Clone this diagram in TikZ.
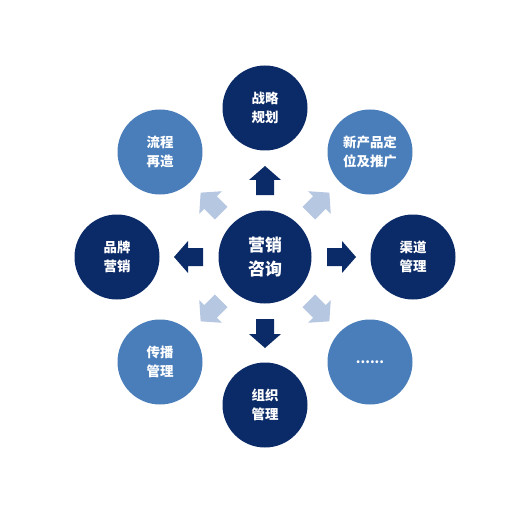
\documentclass[tikz,border=0pt]{standalone}
\usepackage{fontspec}
\newfontfamily\cjk{Noto Sans CJK SC}
\usetikzlibrary{positioning}
\definecolor{navy}{HTML}{0B2A68}
\definecolor{midblue}{HTML}{4A7EBB}
\definecolor{paleblue}{HTML}{B6C7E2}

\begin{document}
\begin{tikzpicture}[x=1bp,y=-1bp,
    hub/.style={circle, fill=navy, minimum size=93bp, inner sep=0pt, text=white, align=center,
        font=\cjk\bfseries\fontsize{17}{25}\selectfont},
    leaf/.style={circle, minimum size=85bp, inner sep=0pt, text=white, align=center,
        font=\cjk\bfseries\fontsize{13.5}{19}\selectfont},
    darkleaf/.style={leaf, fill=navy},
    lightleaf/.style={leaf, fill=midblue}]
    \useasboundingbox (0,0) rectangle (510,510);

    %centre
    \node[hub] (hub) at (265,257) {营销\\咨询};

    %outer circles
    \node[darkleaf] (strategy) at (265,108) {战略\\规划};
    \node[lightleaf] (product) at (370,152) {新产品定\\位及推广};
    \node[darkleaf] (channel) at (413,257) {渠道\\管理};
    \node[lightleaf] (misc) at (370,362) {......};
    \node[darkleaf] (org) at (265,405) {组织\\管理};
    \node[lightleaf] (comm) at (160,362) {传播\\管理};
    \node[darkleaf] (brand) at (117,257) {品牌\\营销};
    \node[lightleaf] (process) at (160,152) {流程\\再造};

    %arrows
    \foreach \ang/\col in {0/navy,90/navy,180/navy,270/navy,45/paleblue,135/paleblue,225/paleblue,315/paleblue}{
        \begin{scope}[shift={(hub.center)}, rotate=\ang]
            \fill[\col] (62,-9) -- (77,-9) -- (77,-16) -- (91,0) -- (77,16) -- (77,9) -- (62,9) -- cycle;
        \end{scope}
    }
\end{tikzpicture}
\end{document}
